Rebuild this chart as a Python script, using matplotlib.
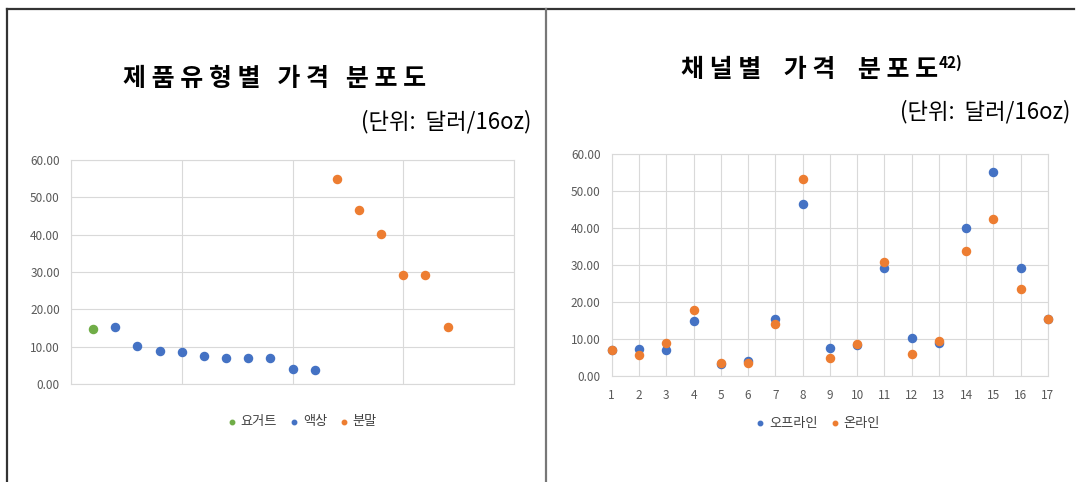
import matplotlib
matplotlib.use("Agg")
import matplotlib.pyplot as plt
from matplotlib.lines import Line2D

plt.rcParams['font.family'] = ['Noto Sans CJK KR', 'DejaVu Sans']

# left chart: price by product type (x = item order)
yogurt_x = [1]
yogurt_y = [14.8]
liquid_x = [2, 3, 4, 5, 6, 7, 8, 9, 10, 11]
liquid_y = [15.3, 10.2, 8.8, 8.5, 7.6, 7.1, 7.1, 7.1, 4.0, 3.7]
powder_x = [12, 13, 14, 15, 16, 17]
powder_y = [55.0, 46.6, 40.1, 29.3, 29.3, 15.3]

# right chart: price by channel
items = list(range(1, 18))
offline = [7.1, 7.2, 7.1, 15.0, 3.3, 4.0, 15.3, 46.6, 7.5, 8.5, 29.3, 10.3, 8.8, 40.0, 55.0, 29.3, 15.3]
online = [7.1, 5.7, 8.9, 17.8, 3.6, 3.4, 14.1, 53.2, 5.0, 8.6, 30.7, 5.9, 9.5, 33.9, 42.5, 23.5, 15.3]

y_ticks = [0, 10, 20, 30, 40, 50, 60]

BLUE = '#4472C4'
ORANGE = '#ED7D31'
GREEN = '#70AD47'
GRID = '#D9D9D9'
TXT = '#595959'

fig = plt.figure(figsize=(10.77, 4.82), dpi=100)

# panel borders
fig.add_artist(Line2D([0.0065, 0.997], [0.981, 0.981], color='#333333', lw=1.6))
fig.add_artist(Line2D([0.0065, 0.0065], [0.0, 0.981], color='#333333', lw=1.6))
fig.add_artist(Line2D([0.507, 0.507], [0.0, 0.981], color='#777777', lw=1.6))


def style_axes(ax):
    ax.set_ylim(0, 60)
    ax.set_yticks(y_ticks)
    ax.set_yticklabels(['%.2f' % v for v in y_ticks])
    ax.grid(True, color=GRID, lw=0.8)
    ax.set_axisbelow(True)
    for s in ax.spines.values():
        s.set_color(GRID)
        s.set_linewidth(0.8)
    ax.tick_params(length=0, colors=TXT, labelsize=8.5, pad=8)


leg_kw = dict(frameon=False, fontsize=9.5, labelcolor='#404040', markerscale=0.55,
              handlelength=0.7, handletextpad=0.35, columnspacing=0.9)

# ---- left chart
ax1 = fig.add_axes([0.0659, 0.2033, 0.4114, 0.4647])
ax1.scatter(yogurt_x, yogurt_y, s=34, color=GREEN, label='요거트', zorder=3)
ax1.scatter(liquid_x, liquid_y, s=34, color=BLUE, label='액상', zorder=3)
ax1.scatter(powder_x, powder_y, s=34, color=ORANGE, label='분말', zorder=3)
ax1.set_xlim(0, 20)
ax1.set_xticks([0, 5, 10, 15, 20])
ax1.set_xticklabels([])
style_axes(ax1)
ax1.legend(loc='center', bbox_to_anchor=(302 / 1077, 0.125), bbox_transform=fig.transFigure,
           ncol=3, **leg_kw)

fig.text(0.255, 0.836, '제 품 유 형 별   가 격   분 포 도', ha='center', va='center',
         fontsize=18, fontweight='bold')
fig.text(0.493, 0.747, '(단위:  달러/16oz)', ha='right', va='center', fontsize=16)

# ---- right chart
ax2 = fig.add_axes([0.568, 0.2199, 0.405, 0.4606])
ax2.scatter(items, offline, s=34, color=BLUE, label='오프라인', zorder=3, clip_on=False)
ax2.scatter(items, online, s=34, color=ORANGE, label='온라인', zorder=3, clip_on=False)
ax2.set_xlim(1, 17)
ax2.set_xticks(items)
style_axes(ax2)
ax2.tick_params(axis='x', pad=9)
ax2.legend(loc='center', bbox_to_anchor=(818 / 1077, 0.122), bbox_transform=fig.transFigure,
           ncol=2, **leg_kw)

t2 = fig.text(0.752, 0.855, '채 널 별    가 격    분 포 도', ha='center', va='center',
              fontsize=18, fontweight='bold')
fig.text(0.994, 0.768, '(단위:  달러/16oz)', ha='right', va='center', fontsize=16)
ax2.annotate('42)', xy=(1.0, 0.45), xycoords=t2, ha='left', va='bottom',
             fontsize=11, fontweight='bold')

fig.savefig('out.png', dpi=100)
